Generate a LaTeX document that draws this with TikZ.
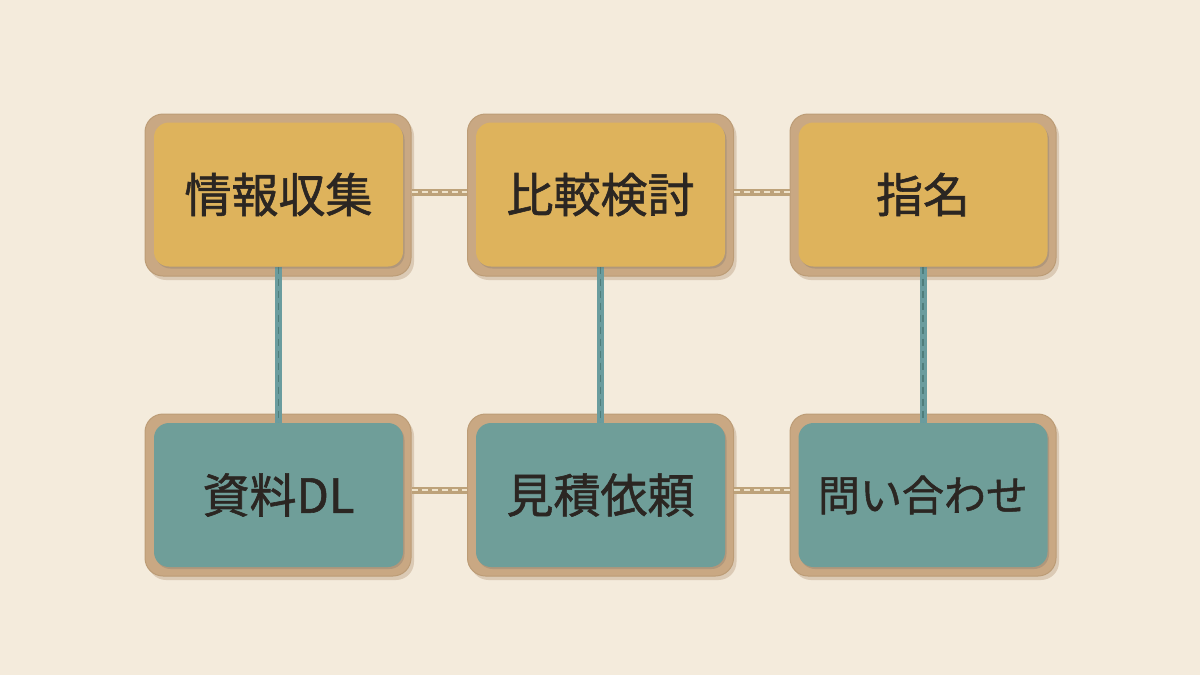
\documentclass[tikz,border=0pt]{standalone}
\usepackage{fontspec}
\newfontfamily\jp[FakeBold=1.2]{Noto Sans CJK JP}
\usetikzlibrary{shadows}
\pgfdeclarelayer{bgl}
\pgfdeclarelayer{back}
\pgfdeclarelayer{mid}
\pgfsetlayers{bgl,back,mid,main}
\definecolor{bgc}{HTML}{F4EBDC}
\definecolor{tan}{HTML}{C9A883}
\definecolor{tandark}{HTML}{BC9C76}
\definecolor{ochre}{HTML}{DEB35C}
\definecolor{tealc}{HTML}{6F9E99}
\definecolor{ink}{HTML}{2B2622}
\definecolor{ropetan}{HTML}{BDA27A}
\definecolor{ropelight}{HTML}{EFE3CB}
\definecolor{ropeteal}{HTML}{6A9C9E}
\definecolor{ropetealdk}{HTML}{4F7D7B}
\tikzset{
  front/.style={rounded corners=15pt, minimum width=249pt, minimum height=144pt,
    inner sep=0pt, text=ink, font=\jp\fontsize{47}{52}\selectfont,
    drop shadow={shadow xshift=1.5pt, shadow yshift=-2pt, opacity=.25, fill=black!60}},
  backcard/.style={rounded corners=18pt, fill=tan, draw=tandark, line width=1pt,
    minimum width=266pt, minimum height=162pt, inner sep=0pt,
    drop shadow={shadow xshift=3pt, shadow yshift=-4pt, opacity=.22, fill=brown!70!black}},
  ropeT/.style={draw=ropetan, line width=7pt,
    postaction={draw=ropelight, line width=2pt, dash pattern=on 6pt off 4pt}},
  ropeB/.style={draw=ropeteal, line width=7pt,
    postaction={draw=ropetealdk, line width=1.6pt, dash pattern=on 7pt off 5pt}}
}
\begin{document}
\begin{tikzpicture}[x=1pt,y=-1pt]
\begin{pgfonlayer}{bgl}
\fill[bgc] (0,0) rectangle (1200,675);
\end{pgfonlayer}
\useasboundingbox (0,0) rectangle (1200,675);

% front cards
\node[front, fill=ochre] (f1) at (278.5,194.5) {情報収集};
\node[front, fill=ochre] (f2) at (600.5,194.5) {比較検討};
\node[front, fill=ochre] (f3) at (923,194.5) {指名};
\node[front, fill=tealc] (f4) at (278.5,495) {資料DL};
\node[front, fill=tealc] (f5) at (600.5,495) {見積依頼};
\node[front, fill=tealc, font=\jp\fontsize{42}{48}\selectfont] (f6) at (923,495) {問い合わせ};

% back cards
\begin{pgfonlayer}{back}
\node[backcard] (b1) at (278,195) {};
\node[backcard] (b2) at (600.5,195) {};
\node[backcard] (b3) at (923,195) {};
\node[backcard] (b4) at (278,495) {};
\node[backcard] (b5) at (600.5,495) {};
\node[backcard] (b6) at (923,495) {};
\end{pgfonlayer}

% strings
\begin{pgfonlayer}{mid}
\draw[ropeT] ([yshift=3pt]b1.east) -- ([yshift=3pt]b2.west);
\draw[ropeT] ([yshift=3pt]b2.east) -- ([yshift=3pt]b3.west);
\draw[ropeT] ([yshift=5pt]b4.east) -- ([yshift=5pt]b5.west);
\draw[ropeT] ([yshift=5pt]b5.east) -- ([yshift=5pt]b6.west);
\draw[ropeB] (f1.south) -- (f4.north);
\draw[ropeB] (f2.south) -- (f5.north);
\draw[ropeB] (f3.south) -- (f6.north);
\end{pgfonlayer}
\end{tikzpicture}
\end{document}
